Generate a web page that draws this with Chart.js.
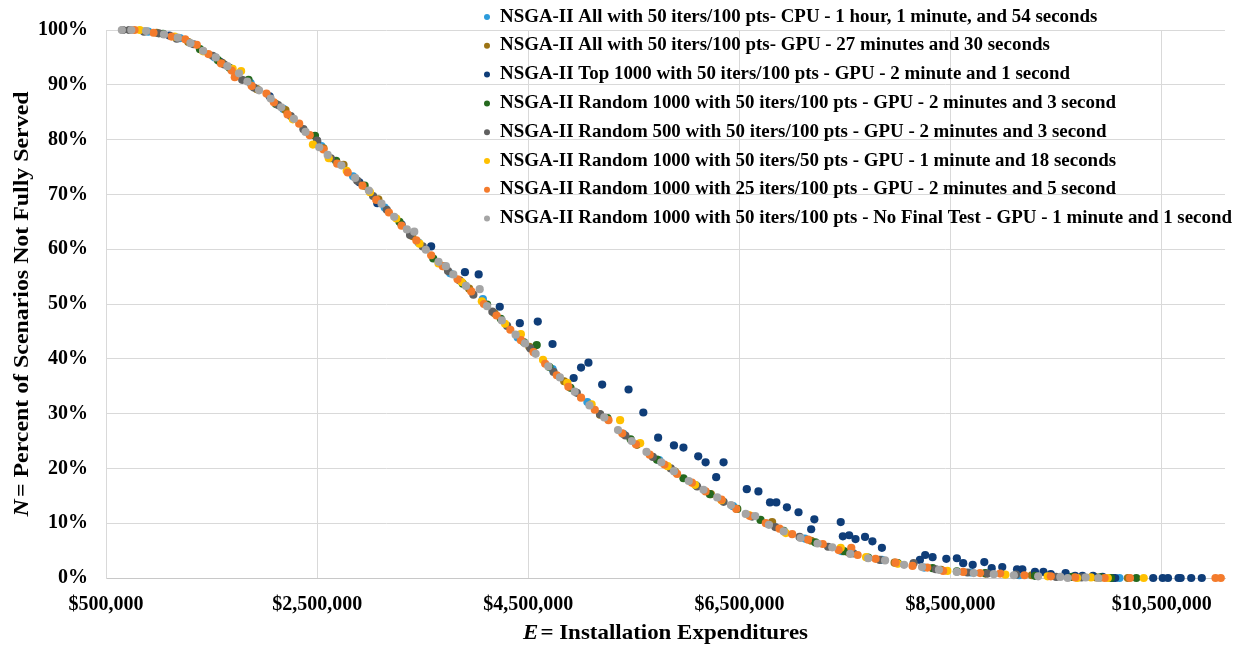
<!DOCTYPE html>
<html>
<head>
<meta charset="utf-8">
<script src="https://cdn.jsdelivr.net/npm/chart.js@4/dist/chart.umd.min.js"></script>
<style>
  html, body { margin: 0; padding: 0; background: #ffffff; }
  #wrap { width: 1242px; height: 648px; }
</style>
</head>
<body>
<div id="wrap"><canvas id="c" width="1242" height="648"></canvas></div>
<script>
// Pareto fronts: installation expenditure ($) vs. percent of scenarios not fully served (%)
const seriesNames = [
  'NSGA-II All with 50 iters/100 pts- CPU - 1 hour, 1 minute, and 54 seconds',
  'NSGA-II All with 50 iters/100 pts- GPU - 27 minutes and 30 seconds',
  'NSGA-II Top 1000 with 50 iters/100 pts - GPU - 2 minute and 1 second',
  'NSGA-II Random 1000 with 50 iters/100 pts - GPU - 2 minutes and 3 second',
  'NSGA-II Random 500 with 50 iters/100 pts - GPU - 2 minutes and 3 second',
  'NSGA-II Random 1000 with 50 iters/50 pts - GPU - 1 minute and 18 seconds',
  'NSGA-II Random 1000 with 25 iters/100 pts - GPU - 2 minutes and 5 second',
  'NSGA-II Random 1000 with 50 iters/100 pts - No Final Test - GPU - 1 minute and 1 second'
];
const seriesColors = ['#2C9BDB', '#9C7415', '#0F3D78', '#25691E', '#606060', '#FFC000', '#F47B2C', '#A5A5A5'];

const xTickValues = [500000, 2500000, 4500000, 6500000, 8500000, 10500000];
const yTickValues = [0, 10, 20, 30, 40, 50, 60, 70, 80, 90, 100];

const cpuAll = [
  [900000,99.7],[1200000,98.5],[1530000,95.0],[1870000,90.3],[2180000,85.6],[2540000,78.8],[2840000,73.3],
  [3140000,67.6],[3460000,61.2],[3760000,55.6],[4070000,50.9],[4400000,43.9],[4730000,38.1],[5060000,32.1],
  [5400000,26.3],[5740000,21.5],[6090000,16.9],[6440000,13.1],[6770000,9.9],[7120000,7.2],[7470000,4.9],
  [7850000,3.3],[8250000,1.9],[8690000,1.0],[9150000,0.5],[9620000,0.2],[10100000,0]
];
const gpuAll = [
  [980000,99.5],[1280000,97.8],[1600000,94.0],[1930000,89.2],[2200000,85.4],[2560000,78.4],[2750000,75.4],
  [3080000,69.1],[3400000,62.4],[3700000,56.9],[3940000,52.8],[4180000,48.3],[4510000,42.2],[4840000,35.9],
  [5180000,29.8],[5530000,24.3],[5890000,19.4],[6230000,15.3],[6810000,10.2],[7180000,6.8],[7530000,4.7],
  [7970000,2.8],[8410000,1.5],[8830000,0.8],[9270000,0.5],[9880000,0.1],[10180000,0]
];
const gpuTop1000 = [
  [1100000,99.0],[1580000,94.2],[2050000,87.9],[2500000,79.7],[2900000,72.2],[3070000,68.4],[3300000,64.5],
  [3580000,60.5],[3900000,55.8],[4030000,55.4],[4230000,49.5],[4420000,46.5],[4590000,46.8],[4730000,42.7],
  [4930000,36.5],[5000000,38.4],[5070000,39.3],[5200000,35.3],[5450000,34.4],[5590000,30.2],[5730000,25.6],
  [5880000,24.2],[5970000,23.8],[6110000,22.2],[6180000,21.1],[6350000,21.1],[6280000,18.4],[6570000,16.2],
  [6680000,15.8],[6790000,13.8],[6850000,13.8],[6950000,12.9],[7060000,12.0],[7210000,10.7],[7180000,8.9],
  [7460000,10.2],[7480000,7.6],[7540000,7.8],[7600000,7.1],[7690000,7.5],[7760000,6.7],[7850000,5.5],
  [8210000,3.3],[8260000,4.2],[8330000,3.8],[8460000,3.5],[8560000,3.6],[8620000,2.7],[8710000,2.4],
  [8820000,2.9],[8890000,1.8],[8990000,2.0],[9130000,1.6],[9180000,1.6],[9300000,1.1],[9380000,1.1],
  [9450000,0.7],[9590000,0.9],[9680000,0.4],[9750000,0.4],[9850000,0.4],[9940000,0.2],[10040000,0],
  [10060000,0],[10420000,0],[10510000,0],[10560000,0],[10660000,0],[10680000,0],[10780000,0],[10880000,0]
];
const gpuRandom1000 = [
  [1040000,99.3],[1390000,96.5],[1560000,94.5],[1670000,93.1],[1850000,90.9],[2110000,86.5],[2480000,80.7],
  [2680000,76.1],[2950000,71.6],[3280000,65.0],[3600000,58.3],[3880000,53.7],[4110000,49.9],[4240000,47.3],
  [4460000,43.0],[4580000,42.5],[4700000,38.5],[4900000,34.7],[5250000,29.2],[5470000,25.3],[5720000,21.6],
  [5970000,18.2],[6220000,15.3],[6480000,12.6],[6700000,10.6],[6920000,8.6],[7220000,6.5],[7490000,4.9],
  [7720000,3.7],[8000000,2.7],[8330000,1.8],[8560000,1.2],[8830000,0.9],[9300000,0.4],[9650000,0.2],
  [9920000,0.1],[10020000,0],[10260000,0]
];
const gpuRandom500 = [
  [660000,100],[720000,100],[860000,99.7],[1000000,99.4],[1170000,98.4],[1330000,97.4],[1510000,95.3],
  [1620000,93.7],[1790000,90.9],[1900000,89.5],[2130000,86.3],[2250000,84.3],[2370000,81.9],[2500000,79.8],
  [2630000,76.6],[2880000,72.5],[3030000,69.7],[3160000,67.2],[3380000,62.6],[3500000,60.5],[3740000,56.0],
  [3850000,54.3],[3980000,51.7],[4160000,48.6],[4300000,46.0],[4520000,41.9],[4740000,37.6],[4960000,33.8],
  [5180000,29.9],[5420000,26.0],[5680000,22.1],[5850000,20.0],[6100000,16.7],[6350000,13.9],[6620000,11.2],
  [6840000,9.3],[7070000,7.5],[7340000,5.7],[7580000,4.5],[7830000,3.3],[8150000,2.7],[8360000,1.6],
  [8660000,1.0],[8850000,0.8],[9120000,0.6],[9500000,0.2],[9740000,0.1]
];
const gpuRandom1000Pts50 = [
  [820000,100],[1150000,98.8],[1420000,96.1],[1700000,92.9],[1780000,92.5],[2270000,83.7],[2460000,79.1],
  [2610000,76.6],[2780000,74.3],[3000000,70.4],[3250000,65.6],[3470000,61.0],[3650000,57.4],[3870000,54.0],
  [4060000,50.5],[4280000,46.4],[4430000,44.5],[4640000,39.8],[4870000,35.6],[5100000,31.7],[5370000,28.8],
  [5560000,24.6],[5820000,20.4],[6080000,17.0],[6330000,14.2],[6590000,11.5],[6940000,8.2],[7460000,5.5],
  [7700000,3.8],[8000000,2.6],[8470000,1.3],[9020000,0.6],[9420000,0.3],[9700000,0],[9830000,0.1],
  [9990000,0],[10330000,0]
];
const gpuRandom1000Iters25 = [
  [770000,100],[950000,99.5],[1120000,98.8],[1250000,98.3],[1360000,97.3],[1470000,95.6],[1590000,93.9],
  [1690000,92.6],[1720000,91.4],[1880000,89.8],[2020000,88.4],[2090000,86.8],[2220000,84.6],[2330000,82.9],
  [2430000,80.8],[2560000,78.2],[2690000,75.6],[2790000,74.0],[2930000,71.6],[3060000,69.0],[3180000,66.7],
  [3300000,64.3],[3440000,61.6],[3580000,58.9],[3690000,56.9],[3830000,54.5],[3960000,52.3],[4080000,50.0],
  [4200000,47.9],[4330000,45.3],[4430000,43.4],[4550000,41.2],[4660000,39.1],[4770000,37.0],[4880000,34.9],
  [5000000,32.9],[5130000,30.7],[5260000,28.8],[5390000,26.4],[5520000,24.4],[5650000,22.5],[5790000,20.7],
  [5910000,19.0],[6050000,17.4],[6180000,15.8],[6330000,14.3],[6470000,12.6],[6600000,11.3],[6750000,10.0],
  [6880000,9.0],[7000000,8.0],[7150000,7.0],[7290000,6.2],[7440000,5.1],[7560000,5.5],[7620000,4.2],
  [7790000,3.5],[7980000,2.8],[8140000,2.2],[8280000,1.9],[8430000,1.3],[8620000,1.1],[8780000,0.9],
  [8970000,0.8],[9200000,0.5],[9450000,0.3],[9680000,0.1],[9960000,0],[10200000,0],[11010000,0],[11060000,0]
];
const gpuRandom1000NoFinal = [
  [650000,100],[740000,100],[880000,99.8],[1050000,99.2],[1180000,98.6],[1300000,97.6],[1420000,96.2],
  [1540000,95.0],[1650000,93.4],[1760000,92.1],[1840000,90.6],[1950000,89.0],[2060000,87.5],[2160000,85.9],
  [2280000,83.8],[2390000,81.4],[2520000,78.6],[2600000,77.2],[2730000,75.3],[2860000,73.0],[2990000,70.7],
  [3110000,68.3],[3230000,65.9],[3350000,63.6],[3420000,63.2],[3530000,59.9],[3650000,57.7],[3720000,56.9],
  [3790000,55.4],[3910000,53.3],[4040000,52.7],[4110000,49.6],[4250000,47.0],[4380000,44.4],[4470000,42.8],
  [4570000,40.9],[4690000,38.6],[4800000,36.6],[4940000,34.0],[5080000,31.5],[5220000,29.3],[5350000,27.0],
  [5480000,25.0],[5620000,23.0],[5760000,21.1],[5880000,19.5],[6020000,17.7],[6160000,16.1],[6290000,14.7],
  [6420000,13.3],[6560000,11.7],[6650000,11.3],[6780000,9.7],[6920000,8.5],[7080000,7.3],[7240000,6.3],
  [7380000,5.6],[7550000,4.4],[7720000,3.6],[7880000,3.2],[8060000,2.4],[8230000,2.0],[8390000,1.5],
  [8560000,1.1],[8720000,0.9],[8910000,0.7],[9100000,0.5],[9330000,0.3],[9540000,0.2],[9610000,0],
  [9780000,0.1],[9900000,0]
];

const seriesData = [cpuAll, gpuAll, gpuTop1000, gpuRandom1000, gpuRandom500,
                    gpuRandom1000Pts50, gpuRandom1000Iters25, gpuRandom1000NoFinal];

const SERIF = '"Liberation Serif", "Times New Roman", serif';

const datasets = seriesData.map((pts, i) => ({
  label: seriesNames[i],
  data: pts.map(p => ({ x: p[0], y: p[1] })),
  backgroundColor: seriesColors[i],
  borderColor: seriesColors[i],
  borderWidth: 0,
  pointRadius: 4.1,
  pointHoverRadius: 4.1,
  clip: false,
  order: seriesData.length - i   // later series painted on top
}));

// Draw a string squeezed/stretched along its baseline to a given length
function drawFitted(ctx, parts, cx, cy, targetLen) {
  let total = 0;
  parts.forEach(p => { ctx.font = p.font; p.w = ctx.measureText(p.text).width; total += p.w + (p.gap || 0); });
  const s = targetLen / total;
  ctx.save();
  ctx.translate(cx, cy);
  ctx.scale(s, 1);
  let x = -total / 2;
  parts.forEach(p => {
    ctx.font = p.font;
    ctx.fillText(p.text, x, 0);
    x += p.w + (p.gap || 0);
  });
  ctx.restore();
}

const annotations = {
  id: 'annotations',
  afterDraw(chart) {
    const ctx = chart.ctx;
    const area = chart.chartArea;
    ctx.save();
    ctx.fillStyle = '#000000';
    ctx.textBaseline = 'middle';
    ctx.textAlign = 'left';

    // legend inside the plot, top right
    const legFont = 'bold 18px ' + SERIF;
    ctx.font = legFont;
    const longest = Math.max(...chart.data.datasets.map(d => ctx.measureText(d.label).width));
    const sx = 732 / longest;
    chart.data.datasets.forEach((d, i) => {
      const y = 17 + i * 28.8;
      ctx.beginPath();
      ctx.fillStyle = d.backgroundColor;
      ctx.arc(487, y, 3, 0, Math.PI * 2);
      ctx.fill();
      ctx.fillStyle = '#000000';
      ctx.save();
      ctx.translate(500, y);
      ctx.scale(sx, 1);
      ctx.font = legFont;
      ctx.fillText(d.label, 0, 0);
      ctx.restore();
    });

    // x axis title
    drawFitted(ctx, [
      { text: 'E', font: 'italic bold 22px ' + SERIF, gap: 2 },
      { text: '= Installation Expenditures', font: 'bold 22px ' + SERIF }
    ], (area.left + area.right) / 2, 633, 285);

    // y axis title
    ctx.save();
    ctx.translate(22, (area.top + area.bottom) / 2);
    ctx.rotate(-Math.PI / 2);
    drawFitted(ctx, [
      { text: 'N', font: 'italic bold 22px ' + SERIF, gap: 2 },
      { text: '= Percent of Scenarios Not Fully Served', font: 'bold 22px ' + SERIF }
    ], 0, 0, 425);
    ctx.restore();

    ctx.restore();
  }
};

new Chart(document.getElementById('c'), {
  type: 'scatter',
  data: { datasets },
  plugins: [annotations],
  options: {
    responsive: false,
    animation: false,
    devicePixelRatio: 1,
    events: [],
    layout: { padding: { top: 28, right: 17, left: 0, bottom: 0 } },
    plugins: { legend: { display: false }, tooltip: { enabled: false }, title: { display: false } },
    scales: {
      x: {
        type: 'linear',
        min: 500000,
        max: 11100000,
        afterBuildTicks(scale) { scale.ticks = xTickValues.map(v => ({ value: v })); },
        afterFit(scale) { scale.height = 70; },
        grid: { color: '#d9d9d9', lineWidth: 1, drawTicks: false },
        border: { color: '#c8c8c8', width: 1 },
        ticks: {
          padding: 15,
          color: '#000000',
          font: { family: SERIF, size: 20, weight: 'bold' },
          maxRotation: 0,
          autoSkip: false,
          callback: v => '$' + Number(v).toLocaleString('en-US')
        }
      },
      y: {
        type: 'linear',
        min: 0,
        max: 100,
        afterBuildTicks(scale) { scale.ticks = yTickValues.map(v => ({ value: v })); },
        afterFit(scale) { scale.width = 106; },
        grid: { color: '#d9d9d9', lineWidth: 1, drawTicks: false },
        border: { color: '#d9d9d9', width: 1 },
        ticks: {
          padding: 18,
          color: '#000000',
          font: { family: SERIF, size: 20, weight: 'bold' },
          callback: v => v + '%'
        }
      }
    }
  }
});
</script>
</body>
</html>
